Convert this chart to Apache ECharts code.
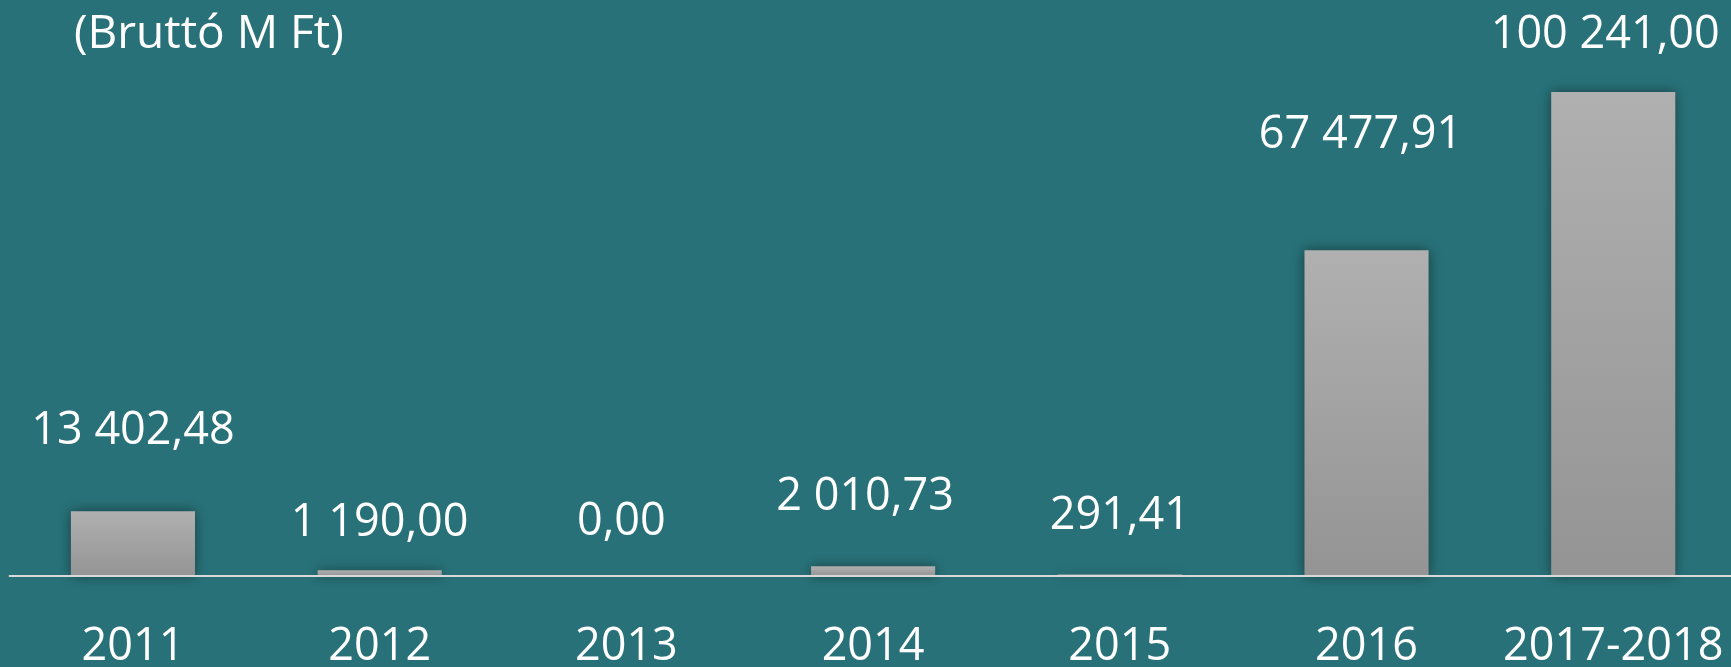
<!DOCTYPE html>
<html>
<head>
<meta charset="utf-8">
<script src="https://cdn.jsdelivr.net/npm/echarts@6/dist/echarts.min.js"></script>
<style>
  html, body { margin: 0; padding: 0; background: #287178; overflow: hidden; }
  #chart { width: 1731px; height: 667px; }
</style>
</head>
<body>
<div id="chart"></div>
<script>
// ---- data ----
const categories = ['2011', '2012', '2013', '2014', '2015', '2016', '2017-2018'];
const values = [13402.48, 1190.00, 0.00, 2010.73, 291.41, 67477.91, 100241.00];
const unitLabel = '(Bruttó M Ft)';

// ---- layout (label placement relative to each bar top, px) ----
const labelLift = [80, 47, 54, 69, 58, 115, 57];
const labelShiftX = [0, 0, -5, -8, 0, -6, -8];

const FONT = '"Open Sans", "Noto Sans", sans-serif';
const FS = 45;

function fmt(v) {
  const parts = v.toFixed(2).split('.');
  return parts[0].replace(/\B(?=(\d{3})+(?!\d))/g, ' ') + ',' + parts[1];
}

const chart = echarts.init(document.getElementById('chart'), null, { renderer: 'canvas' });

const barGradient = new echarts.graphic.LinearGradient(0, 0, 0, 1, [
  { offset: 0, color: '#b0b0b0' },
  { offset: 1, color: '#949494' }
]);

chart.setOption({
  backgroundColor: '#287178',
  animation: false,
  grid: {
    left: 9.6, width: 1727, top: 45, bottom: 91,
    containLabel: false, outerBoundsMode: 'none'
  },
  graphic: [{
    type: 'text',
    left: 74,
    top: 12,
    style: { text: unitLabel, fill: '#ffffff', fontSize: 46, fontFamily: FONT }
  }],
  xAxis: {
    type: 'category',
    data: categories,
    z: 5,
    axisLine: { show: true, lineStyle: { color: '#d9d9d9', width: 2 } },
    axisTick: { show: false },
    axisLabel: { color: '#ffffff', fontSize: FS, fontFamily: FONT, margin: 49, interval: 0 },
    splitLine: { show: false }
  },
  yAxis: {
    type: 'value', min: 0, max: 110000, show: false,
    splitLine: { show: false }
  },
  series: [{
    type: 'bar',
    barCategoryGap: '49.7%',
    data: values.map((v, i) => ({
      value: v,
      label: { offset: [labelShiftX[i], -(labelLift[i] - 23)] }
    })),
    itemStyle: {
      color: barGradient,
      shadowBlur: 12,
      shadowColor: 'rgba(0,0,0,0.45)',
      shadowOffsetX: 0,
      shadowOffsetY: 0
    },
    label: {
      show: true,
      position: 'top',
      distance: 0,
      color: '#ffffff',
      fontSize: FS,
      lineHeight: 46,
      fontFamily: FONT,
      formatter: p => fmt(p.value)
    }
  }]
});
</script>
</body>
</html>
